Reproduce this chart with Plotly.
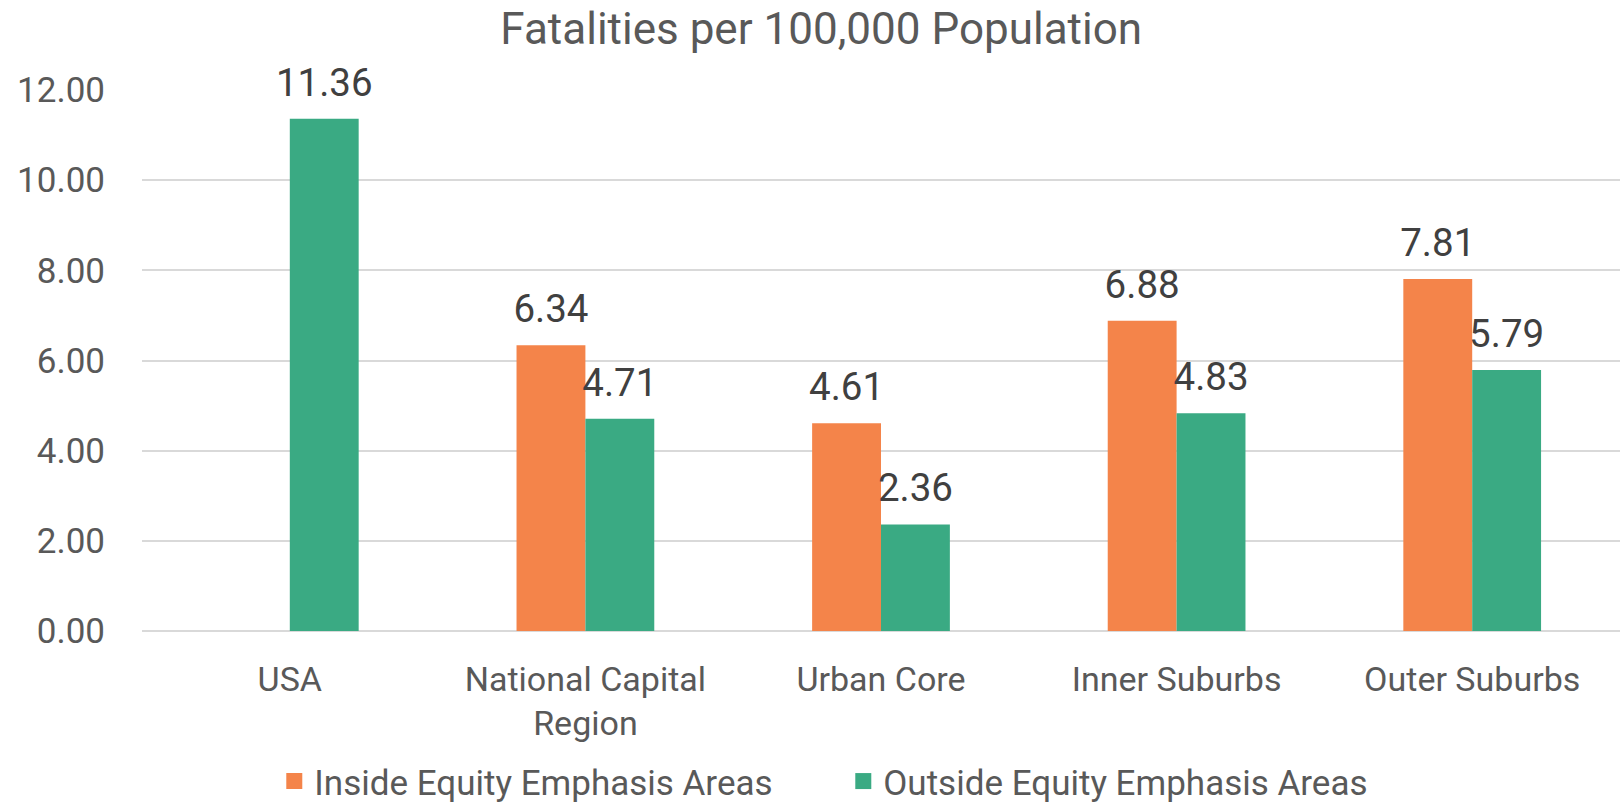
import plotly.graph_objects as go

categories = ["USA", "National Capital<br>Region", "Urban Core", "Inner Suburbs", "Outer Suburbs"]
inside_vals = [None, 6.34, 4.61, 6.88, 7.81]
outside_vals = [11.36, 4.71, 2.36, 4.83, 5.79]
series_names = ["Inside Equity Emphasis Areas", "Outside Equity Emphasis Areas"]
series_colors = ["#F4844A", "#3AAA83"]
tick_vals = [0, 2, 4, 6, 8, 10, 12]
tick_text = ["0.00", "2.00", "4.00", "6.00", "8.00", "10.00", "12.00"]

FONT = "Roboto"
AXIS_COLOR = "#595959"
LABEL_COLOR = "#404040"

def fmt(v):
    return "" if v is None else f"{v:.2f}"

fig = go.Figure()
for i, (name, vals, col) in enumerate(zip(series_names, [inside_vals, outside_vals], series_colors)):
    fig.add_trace(go.Bar(
        x=categories, y=vals, name=name, offsetgroup=str(i),
        marker=dict(color=col, line=dict(width=0)),
        showlegend=False, hoverinfo="skip",
    ))
for i, (name, vals) in enumerate(zip(series_names, [inside_vals, outside_vals])):
    fig.add_trace(go.Scatter(
        x=categories, y=vals, mode="markers+text", offsetgroup=str(i),
        text=[fmt(v) for v in vals], textposition="top center",
        textfont=dict(family=FONT, size=38.5, color=LABEL_COLOR),
        marker=dict(size=20, color="rgba(0,0,0,0)"),
        cliponaxis=False, showlegend=False, hoverinfo="skip",
    ))
# legend entries
for name, col in zip(series_names, series_colors):
    fig.add_trace(go.Scatter(
        x=[None], y=[None], mode="markers", name=name,
        marker=dict(symbol="square", size=16, color=col),
        showlegend=True,
    ))

fig.update_layout(
    width=1623, height=803,
    margin=dict(l=142, r=3, t=90, b=172),
    paper_bgcolor="white", plot_bgcolor="white",
    barmode="group", scattermode="group", bargap=0.534, bargroupgap=0,
    font=dict(family=FONT, color=AXIS_COLOR),
    title=dict(text="Fatalities per 100,000 Population", x=0.506, xanchor="center",
               y=0.965, yanchor="middle", yref="container",
               font=dict(family=FONT, size=44, color=AXIS_COLOR)),
    showlegend=True,
    legend=dict(orientation="h", xref="container", yref="container",
                x=0.169, xanchor="left", y=0.027, yanchor="middle",
                font=dict(family=FONT, size=35, color=AXIS_COLOR),
                itemsizing="trace", traceorder="normal", entrywidth=524),
    xaxis=dict(showgrid=False, showline=False, zeroline=False, ticks="",
               tickfont=dict(family=FONT, size=34, color=AXIS_COLOR),
               ticklabelstandoff=25),
    yaxis=dict(range=[0, 12], tickvals=tick_vals, ticktext=tick_text,
               showgrid=True, gridcolor="#D9D9D9", gridwidth=1.5,
               zeroline=True, zerolinecolor="#D9D9D9", zerolinewidth=1.5,
               showline=False, ticks="",
               tickfont=dict(family=FONT, size=35, color=AXIS_COLOR),
               ticklabelstandoff=36),
)

fig.write_html("out.html", config={"displayModeBar": False},
               post_script="document.body.style.margin='0';")
